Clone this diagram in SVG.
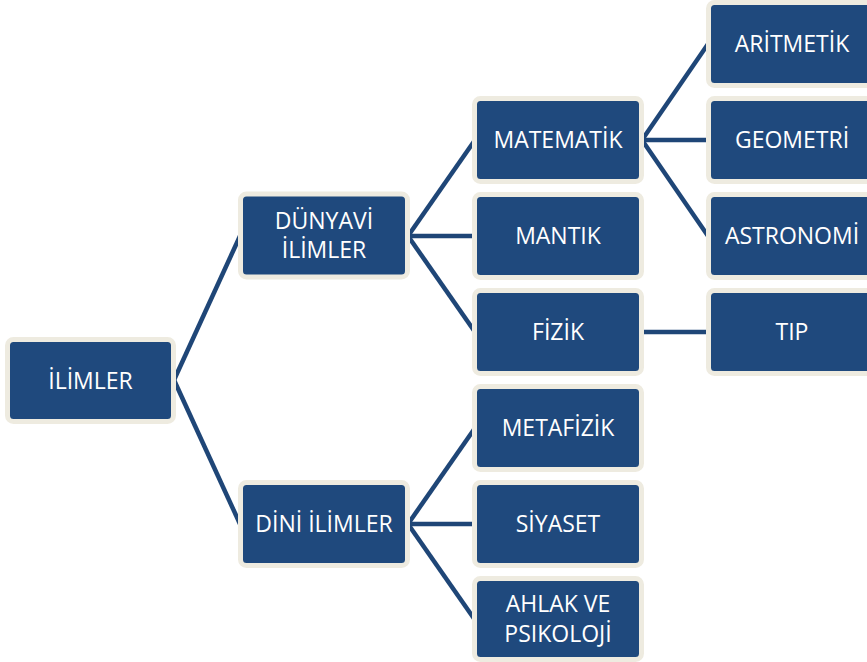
<svg xmlns="http://www.w3.org/2000/svg" width="867" height="662" viewBox="0 0 867 662">
<style>
.box{fill:#1F497D;stroke:#EEEBE0;stroke-width:5}
.lbl{fill:#FFFFFF;font-family:"Open Sans","Noto Sans","Liberation Sans",sans-serif;font-size:23px;text-anchor:middle}
.con line{stroke:#1F4677;stroke-width:4.5;stroke-linecap:butt}
</style>
<rect width="867" height="662" fill="#FFFFFF"/>
<g id="connectors" class="con">
<line x1="174" y1="380" x2="240" y2="236"/>
<line x1="174" y1="380" x2="240" y2="524"/>
<line x1="408" y1="236" x2="475" y2="140"/>
<line x1="408" y1="236" x2="475" y2="236"/>
<line x1="408" y1="236" x2="475" y2="332"/>
<line x1="408" y1="524" x2="475" y2="428"/>
<line x1="408" y1="524" x2="475" y2="524"/>
<line x1="408" y1="524" x2="475" y2="620"/>
<line x1="642" y1="140" x2="708" y2="44"/>
<line x1="642" y1="140" x2="708" y2="140"/>
<line x1="642" y1="140" x2="708" y2="236"/>
<line x1="642" y1="332" x2="708" y2="332"/>
</g>
<g id="ilimler"><rect class="box" x="7.5" y="339.5" width="166" height="82" rx="6"/><text class="lbl" x="90.5" y="388.5">İLİMLER</text></g>
<g id="dunyavi"><rect class="box" x="240.5" y="194" width="167" height="83" rx="6"/><text class="lbl" x="324" y="229">DÜNYAVİ</text><text class="lbl" x="324" y="258">İLİMLER</text></g>
<g id="dini"><rect class="box" x="240.5" y="482.5" width="167" height="83" rx="6"/><text class="lbl" x="324" y="532">DİNİ İLİMLER</text></g>
<g id="matematik"><rect class="box" x="474.5" y="98.5" width="167" height="83" rx="6"/><text class="lbl" x="558" y="148">MATEMATİK</text></g>
<g id="mantik"><rect class="box" x="474.5" y="194.5" width="167" height="83" rx="6"/><text class="lbl" x="558" y="244">MANTIK</text></g>
<g id="fizik"><rect class="box" x="474.5" y="290.5" width="167" height="83" rx="6"/><text class="lbl" x="558" y="340">FİZİK</text></g>
<g id="metafizik"><rect class="box" x="474.5" y="386.5" width="167" height="83" rx="6"/><text class="lbl" x="558" y="436">METAFİZİK</text></g>
<g id="siyaset"><rect class="box" x="474.5" y="482.5" width="167" height="83" rx="6"/><text class="lbl" x="558" y="532">SİYASET</text></g>
<g id="ahlak"><rect class="box" x="474.5" y="578.5" width="167" height="81" rx="6"/><text class="lbl" x="558" y="612">AHLAK VE</text><text class="lbl" x="558" y="642">PSIKOLOJİ</text></g>
<g id="aritmetik"><rect class="box" x="708.5" y="2.5" width="167" height="83" rx="6"/><text class="lbl" x="792" y="52">ARİTMETİK</text></g>
<g id="geometri"><rect class="box" x="708.5" y="98.5" width="167" height="83" rx="6"/><text class="lbl" x="792" y="148">GEOMETRİ</text></g>
<g id="astronomi"><rect class="box" x="708.5" y="194.5" width="167" height="83" rx="6"/><text class="lbl" x="792" y="244">ASTRONOMİ</text></g>
<g id="tip"><rect class="box" x="708.5" y="290.5" width="167" height="83" rx="6"/><text class="lbl" x="792" y="340">TIP</text></g>
</svg>
